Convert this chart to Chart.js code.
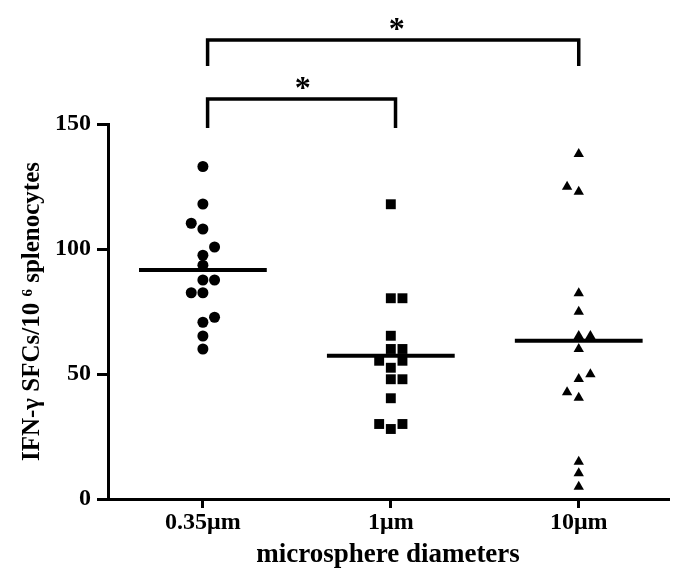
<!DOCTYPE html>
<html>
<head>
<meta charset="utf-8">
<script src="https://cdn.jsdelivr.net/npm/chart.js@4/dist/chart.umd.min.js"></script>
<style>
  html, body { margin: 0; padding: 0; background: #fff; }
  #wrap { width: 684px; height: 583px; }
</style>
</head>
<body>
<div id="wrap"><canvas id="c" width="684" height="583"></canvas></div>
<script>
// ---- data ----
const categories = ['0.35μm', '1μm', '10μm'];
const yTicks = [0, 50, 100, 150];

const values035 = [133, 118, 110.3, 108, 100.8, 97.5, 93.5, 87.6, 87.6, 82.5, 82.5, 72.7, 70.7, 65.2, 60];
const slots035  = [0, 0, -1, 0, 1, 0, 0, 0, 1, -1, 0, 1, 0, 0, 0];

const values1 = [117.9, 80.3, 80.3, 65.3, 60, 60, 55.3, 55.3, 52.5, 47.9, 47.9, 40.3, 30, 30, 28];
const slots1  = [0, 0, 1, 0, 0, 1, -1, 1, 0, 0, 1, 0, -1, 1, 0];

const values10 = [138, 124.9, 122.9, 82.3, 74.9, 65.2, 65.2, 60, 49.9, 48, 42.7, 40.5, 14.9, 10.3, 4.9];
const slots10  = [0, -1, 0, 0, 0, 0, 1, 0, 1, 0, -1, 0, 0, 0, 0];

const means = [91.6, 57.3, 63.3];

// significance brackets: [fromGroup, toGroup, barLevel, legLevel]
const bracketFrom  = [0, 0];
const bracketTo    = [1, 2];
const bracketLevel = [160, 183.6];
const legLevel     = [148.4, 173.2];
const bracketMark  = ['*', '*'];

// ---- build ----
const SLOT = 0.062;
const HALF = 0.34;
const LEGSHIFT = 0.025;
function pts(group, vals, slots) {
  return vals.map((v, i) => ({ x: group + slots[i] * SLOT, y: v }));
}
const black = '#000';
const datasets = [
  { type: 'scatter', data: pts(0, values035, slots035), pointStyle: 'circle', pointRadius: 5.5,
    backgroundColor: black, borderColor: black, borderWidth: 0 },
  { type: 'scatter', data: pts(1, values1, slots1), pointStyle: 'rect', pointRadius: 7,
    backgroundColor: black, borderColor: black, borderWidth: 0 },
  { type: 'scatter', data: pts(2, values10, slots10), pointStyle: 'triangle', pointRadius: 6,
    backgroundColor: black, borderColor: black, borderWidth: 0 },
];
means.forEach((m, g) => {
  datasets.push({ type: 'line', data: [{ x: g - HALF, y: m }, { x: g + HALF, y: m }],
    borderColor: black, borderWidth: 4, pointRadius: 0, fill: false });
});
bracketFrom.forEach((f, i) => {
  const t = bracketTo[i];
  const fx = f + LEGSHIFT, tx = t + (t === 1 ? LEGSHIFT : 0);
  datasets.push({ type: 'line', clip: false,
    data: [{ x: fx, y: legLevel[i] }, { x: fx, y: bracketLevel[i] }, { x: tx, y: bracketLevel[i] }, { x: tx, y: legLevel[i] }],
    borderColor: black, borderWidth: 3.5, pointRadius: 0, fill: false, tension: 0, borderCapStyle: 'butt', borderJoinStyle: 'miter' });
});

const starPlugin = {
  id: 'stars',
  afterDatasetsDraw(chart) {
    const { ctx, scales: { x, y } } = chart;
    ctx.save();
    ctx.fillStyle = black;
    ctx.font = 'bold 32px "Liberation Serif", "Times New Roman", serif';
    ctx.textAlign = 'center';
    ctx.textBaseline = 'alphabetic';
    bracketFrom.forEach((f, i) => {
      const px = (x.getPixelForValue(f) + x.getPixelForValue(bracketTo[i])) / 2 + 6;
      const py = y.getPixelForValue(bracketLevel[i]) - 1;
      ctx.fillText(bracketMark[i], px, py);
    });
    ctx.restore();
  }
};

const serif = '"Liberation Serif", "Times New Roman", serif';
new Chart(document.getElementById('c'), {
  type: 'scatter',
  data: { datasets },
  plugins: [starPlugin],
  options: {
    responsive: false,
    animation: false,
    layout: { padding: { top: 124, right: 16, left: 0, bottom: 0 } },
    plugins: { legend: { display: false }, tooltip: { enabled: false } },
    scales: {
      x: {
        type: 'linear', min: -0.505, max: 2.475,
        afterBuildTicks: s => { s.ticks = categories.map((c, i) => ({ value: i })); },
        afterFit: s => { s.height = 84; },
        ticks: { callback: v => categories[v], color: black, padding: 0,
          font: { family: serif, size: 24, weight: 'bold' }, maxRotation: 0, autoSkip: false },
        grid: { display: true, drawOnChartArea: false, drawTicks: true, tickLength: 9, lineWidth: 3, color: black },
        border: { display: true, width: 3, color: black },
        title: { display: true, text: 'microsphere diameters', color: black,
          font: { family: serif, size: 27, weight: 'bold' }, padding: { top: 0, bottom: 12 } }
      },
      y: {
        min: 0, max: 150,
        afterBuildTicks: s => { s.ticks = yTicks.map(v => ({ value: v })); },
        afterFit: s => { s.width = 108; },
        ticks: { color: black, padding: 6, font: { family: serif, size: 24, weight: 'bold' } },
        grid: { display: true, drawOnChartArea: false, drawTicks: true, tickLength: 11, lineWidth: 3, color: black },
        border: { display: true, width: 3, color: black },
        title: { display: true, text: 'IFN-γ SFCs/10 ⁶ splenocytes', color: black,
          font: { family: serif, size: 25, weight: 'bold' }, padding: { top: 18, bottom: 0 } }
      }
    }
  }
});
</script>
</body>
</html>
